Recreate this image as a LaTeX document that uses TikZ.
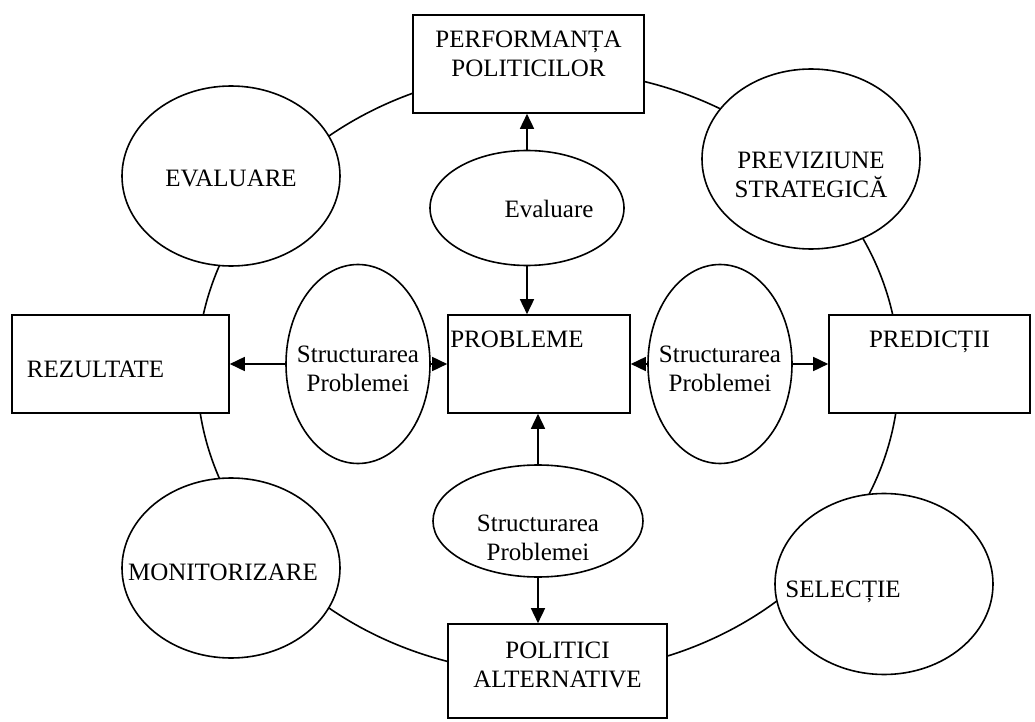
\documentclass[tikz,border=0pt]{standalone}
\usepackage{fontspec}
\setmainfont{Liberation Serif}
\usetikzlibrary{shapes,arrows.meta}

\begin{document}
\begin{tikzpicture}[x=0.5pt,y=-0.5pt,line width=0.8pt,
    font=\fontsize{12.5}{14.5}\selectfont,
    box/.style={draw,rectangle,fill=white,inner sep=0pt,align=center},
    oval/.style={draw,ellipse,fill=white,inner ysep=0pt,inner xsep=-16pt,align=center},
    arr/.style={-{Triangle[length=7.5pt,width=7pt]}}]
\useasboundingbox (0,0) rectangle (1035,722);

% Outer cycle
\draw (548,372) ellipse [x radius=351, y radius=302];

% Top block
\node[box,
    minimum width=115.5pt, minimum height=49pt,
    text height=14pt, text depth=1pt
] (perf) at (528.5,64) {PERFORMANȚA\\POLITICILOR};

% Cycle stages
\node[oval,
    minimum width=109pt, minimum height=90pt,
    text height=12pt, text depth=1pt
] (evalL) at (231,176) {EVALUARE};

\node[oval,
    minimum width=109pt, minimum height=90pt,
    text height=40pt, text depth=1pt
] (prev) at (811,159) {PREVIZIUNE\\STRATEGICĂ};

\node[oval,
    minimum width=109pt, minimum height=90pt,
    text height=13pt, text depth=1pt
] (mon) at (231,568) {MONITORIZARE\hspace*{8pt}};

\node[oval,
    minimum width=109pt, minimum height=90.5pt,
    text height=14pt, text depth=1pt
] (sel) at (884,584) {SELECȚIE\hspace*{41pt}};

% Side blocks
\node[box,
    minimum width=108.5pt, minimum height=49pt,
    text height=14pt, text depth=1pt
] (rez) at (120.5,364) {REZULTATE\hspace*{25pt}};

\node[box,
    minimum width=100.5pt, minimum height=49pt,
    text height=9pt, text depth=26pt
] (pred) at (929.5,364) {PREDICȚII};

% Centre
\node[box,
    minimum width=91pt, minimum height=49pt,
    text height=9pt, text depth=26pt
] (prob) at (539,364) {PROBLEME\hspace*{22pt}};

\node[oval,
    minimum width=97pt, minimum height=57.5pt,
    text height=11pt, text depth=1pt
] (evalC) at (527,208) {\hspace*{22pt}Evaluare};

\node[oval,
    minimum width=72pt, minimum height=99.5pt,
    text height=29pt, text depth=1pt
] (structL) at (358,364) {Structurarea\\Problemei};

\node[oval,
    minimum width=72pt, minimum height=99.5pt,
    text height=29pt, text depth=1pt
] (structR) at (720,364) {Structurarea\\Problemei};

\node[oval,
    minimum width=105pt, minimum height=56pt,
    text height=39pt, text depth=0pt
] (structB) at (538,521) {Structurarea\\Problemei};

% Bottom block
\node[box,
    minimum width=109.5pt, minimum height=47pt,
    text height=17pt, text depth=1pt
] (pol) at (557.5,671) {POLITICI\\ALTERNATIVE};

% Arrows
\draw[arr] (evalC.north) -- (evalC.north |- perf.south);
\draw[arr] (evalC.south) -- (evalC.south |- prob.north);
\draw[arr] (structB.north) -- (structB.north |- prob.south);
\draw[arr] (structB.south) -- (structB.south |- pol.north);
\draw[arr] (structL.west) -- (structL.west -| rez.east);
\draw[arr] (structL.east) -- (structL.east -| prob.west);
\draw[arr] (structR.west) -- (structR.west -| prob.east);
\draw[arr] (structR.east) -- (structR.east -| pred.west);

\end{tikzpicture}
\end{document}
